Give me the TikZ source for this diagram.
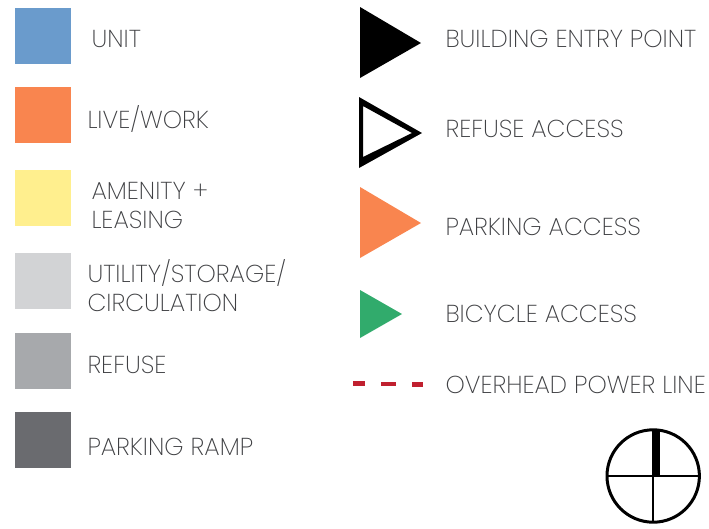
\documentclass[tikz,border=0pt]{standalone}
\usepackage{fontspec}
\setmainfont{Poppins}[UprightFont=* ExtraLight]
\definecolor{labelgray}{HTML}{3F4043}
\definecolor{unitblue}{HTML}{6A9BCC}
\definecolor{liveorange}{HTML}{F9854F}
\definecolor{amenyellow}{HTML}{FFEF8E}
\definecolor{utilgray}{HTML}{D2D3D5}
\definecolor{refgray}{HTML}{A7A9AC}
\definecolor{rampgray}{HTML}{6A6B6F}
\definecolor{bikegreen}{HTML}{31AB6C}
\definecolor{powerred}{HTML}{C0202F}
\tikzset{
  swatch/.style={minimum width=56pt,minimum height=56pt,inner sep=0pt,outer sep=0pt,anchor=north west},
  lbl/.style={anchor=west,inner sep=0pt,outer sep=0pt,text=labelgray,align=left,font=\fontsize{24.5}{29}\selectfont},
}
\begin{document}
\begin{tikzpicture}[x=1pt,y=-1pt]
\useasboundingbox (0,0) rectangle (709,528);
\node[swatch,fill=unitblue] (s1) at (15,8) {};
\node[swatch,fill=liveorange] (s2) at (15,87) {};
\node[swatch,fill=amenyellow] (s3) at (15,170) {};
\node[swatch,fill=utilgray] (s4) at (15,253) {};
\node[swatch,fill=refgray] (s5) at (15,333) {};
\node[swatch,fill=rampgray] (s6) at (15,412) {};
\node[lbl] (l1) at (91.5,38.5) {UNIT};
\node[lbl] (l2) at (87.5,118.5) {LIVE/WORK};
\node[lbl] (l3) at (91.5,205) {AMENITY +\\LEASING};
\node[lbl] (l4) at (87.5,285.5) {UTILITY/STORAGE/\\CIRCULATION};
\node[lbl] (l5) at (87.5,364.5) {REFUSE};
\node[lbl] (l6) at (87.5,446.5) {PARKING RAMP};
\fill[black] (360,7) -- (421,43) -- (360,78) -- cycle;
\fill[black,even odd rule] (359,97) -- (422,133) -- (359,168) -- cycle
  (363,106) -- (412,133) -- (363,157) -- cycle;
\fill[liveorange] (360,187) -- (421,223) -- (360,258) -- cycle;
\fill[bikegreen] (360,290) -- (402,314) -- (360,338) -- cycle;
\draw[powerred,line width=4.5pt] (353,383.5) -- (365,383.5) (381,384) -- (396,384) (412,384.5) -- (423,384.5);
\node[lbl] (r1) at (445.5,38.5) {BUILDING ENTRY POINT};
\node[lbl] (r2) at (445.5,128.5) {REFUSE ACCESS};
\node[lbl] (r3) at (445.5,226.5) {PARKING ACCESS};
\node[lbl] (r4) at (445.5,313.5) {BICYCLE ACCESS};
\node[lbl] (r5) at (445.5,384.5) {OVERHEAD POWER LINE};
\draw[black,line width=3pt] (653.2,476) circle (46.2);
\draw[black,line width=2pt] (607,476) -- (699.4,476) (653.2,430) -- (653.2,522);
\fill[black] (651.7,430) rectangle (659.5,476);
\end{tikzpicture}
\end{document}
